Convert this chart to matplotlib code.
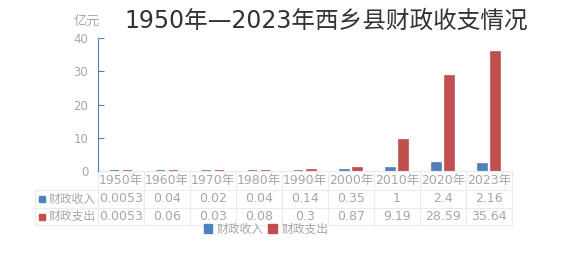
import matplotlib.pyplot as plt
import numpy as np
from matplotlib.patches import Patch

plt.rcParams['font.family'] = ['DejaVu Sans', 'Noto Sans CJK SC']

years = ['1950年', '1960年', '1970年', '1980年', '1990年', '2000年', '2010年', '2020年', '2023年']
income = [0.0053, 0.04, 0.02, 0.04, 0.14, 0.35, 1, 2.4, 2.16]
spend = [0.0053, 0.06, 0.03, 0.08, 0.3, 0.87, 9.19, 28.59, 35.64]
income_txt = ['0.0053', '0.04', '0.02', '0.04', '0.14', '0.35', '1', '2.4', '2.16']
spend_txt = ['0.0053', '0.06', '0.03', '0.08', '0.3', '0.87', '9.19', '28.59', '35.64']
series_names = ['财政收入', '财政支出']

blue = '#4F81BD'
red = '#C0504D'
grey = '#A6A6A6'
gridc = '#EBEBEB'

W, H = 574, 263
AX_H = 133
CAT_W = 46
fig = plt.figure(figsize=(W / 100, H / 100), dpi=100)
ax = fig.add_axes([98 / W, 1 - 171 / H, 414 / W, AX_H / H])

n = len(years)
x = np.arange(n)
bw = 0.2
# thin edge keeps the tiny early values visible as a line, like the original
ax.bar(x - 0.14, income, bw, color=blue, edgecolor=blue, linewidth=1.2)
ax.bar(x + 0.14, spend, bw, color=red, edgecolor=red, linewidth=1.2)

ax.set_xlim(-0.5, n - 0.5)
ax.set_ylim(0, 40)
ax.set_yticks([0, 10, 20, 30, 40])
ax.set_xticks([])
for s in ['top', 'right', 'bottom']:
    ax.spines[s].set_visible(False)
ax.spines['left'].set_color(blue)
ax.tick_params(axis='y', direction='in', length=4, color=blue, labelcolor=grey, labelsize=8.5, pad=7)

ax.text(0.005, 1.08, '亿元', transform=ax.transAxes, ha='right', va='bottom', color=grey, fontsize=9.5)
fig.text(326 / W, 1 - 21 / H, '1950年—2023年西乡县财政收支情况', ha='center', va='center',
         fontsize=17, color='#333333')

# data table under the axis: x in category units, y in axes fraction
tr = ax.get_xaxis_transform()
rows_y = [0, -19 / AX_H, -37 / AX_H, -54 / AX_H]
left = -0.5 - 63 / CAT_W
right = n - 0.5
kw = dict(transform=tr, clip_on=False, color=gridc, lw=0.8)
ax.plot([-0.5, right], [rows_y[0]] * 2, **kw)
for yy in rows_y[1:]:
    ax.plot([left, right], [yy, yy], **kw)
ax.plot([left, left], [rows_y[1], rows_y[3]], **kw)
for i in range(n + 1):
    ax.plot([i - 0.5, i - 0.5], [rows_y[0], rows_y[3]], **kw)

centers = [(rows_y[k] + rows_y[k + 1]) / 2 for k in range(3)]
tkw = dict(transform=tr, clip_on=False, color=grey, fontsize=9, ha='center', va='center')
for i in range(n):
    ax.text(i, centers[0], years[i], **tkw)
    ax.text(i, centers[1], income_txt[i], **tkw)
    ax.text(i, centers[2], spend_txt[i], **tkw)
for k, (name, col) in enumerate(zip(series_names, [blue, red])):
    ax.text(-0.5 - 2 / CAT_W, centers[k + 1], name, transform=tr, clip_on=False, color=grey,
            fontsize=8.5, ha='right', va='center')
    ax.plot([left + 7 / CAT_W], [centers[k + 1]], marker='s', ms=5, color=col,
            transform=tr, clip_on=False)

handles = [Patch(color=blue, label=series_names[0]), Patch(color=red, label=series_names[1])]
leg = fig.legend(handles=handles, loc='center', bbox_to_anchor=(266 / W, 1 - 229 / H), ncol=2,
                 frameon=False, fontsize=8.5, handlelength=0.7, handleheight=0.7,
                 handletextpad=0.4, columnspacing=0.4)
for t in leg.get_texts():
    t.set_color(grey)

fig.savefig('out.png', dpi=100)
